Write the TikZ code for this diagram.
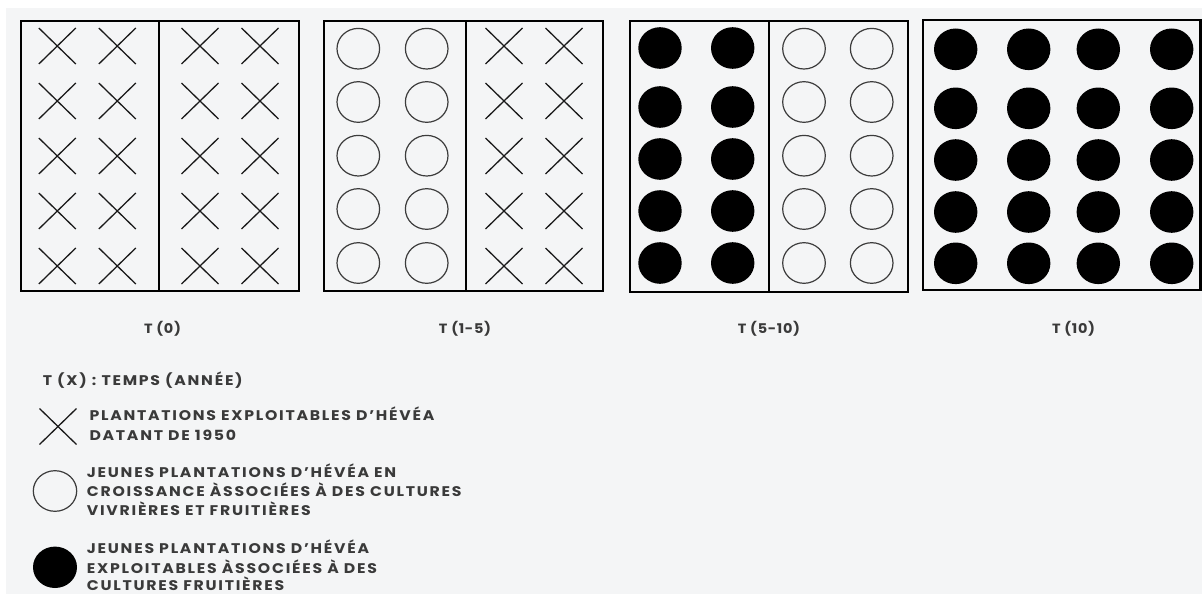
\documentclass[tikz,border=0pt]{standalone}
\usepackage{fontspec}
\newfontfamily\lblfont{Poppins}[LetterSpace=12.5,FakeStretch=1.12]
\newfontfamily\capfont{Poppins}[LetterSpace=5,FakeStretch=1.08]
\definecolor{bgg}{HTML}{F4F5F6}
\definecolor{txt}{HTML}{3A3A3A}
\definecolor{mk}{HTML}{1A1A1A}
\tikzset{
  plot/.style={draw=black, line width=2.2pt},
  divider/.style={draw=black, line width=1.9pt},
  xmark/.style={draw=mk, line width=1.3pt},
  ring/.style={draw=mk!85, line width=1.2pt},
  dot/.style={fill=black},
  lbl/.style={inner sep=0pt, text=txt, font=\lblfont\bfseries\fontsize{14}{17}\selectfont},
  caption/.style={inner sep=0pt, text=txt, font=\capfont\bfseries\fontsize{13.4}{16}\selectfont},
}
\newcommand{\xm}[2]{\draw[xmark] (#1-18.5,#2-18) -- (#1+18.5,#2+18) (#1-18.5,#2+18) -- (#1+18.5,#2-18);}
\begin{document}
\begin{tikzpicture}[x=1pt,y=-1pt]
\useasboundingbox (0,0) rectangle (1202,594);
\fill[white] (0,0) rectangle (1202,594);
\fill[bgg] (6,8) rectangle (1202,594);
% Box 1: T(0)
\foreach \x in {57.3,117.3,200,260}{\foreach \y in {46,101,156,211,266}{\xm{\x}{\y}}}
\draw[plot] (20.7,21) rectangle (299,291);
\draw[divider] (159,21) -- (159,291);
% Box 2: T(1-5)
\foreach \x in {358.3,426.7}{\foreach \y in {48.7,102,155.7,209,263}{\draw[ring] (\x,\y) ellipse[x radius=21.3,y radius=20.3];}}
\foreach \x in {504,564}{\foreach \y in {46,101,156,211,266}{\xm{\x}{\y}}}
\draw[plot] (324,21) rectangle (602.7,291);
\draw[divider] (465.7,21) -- (465.7,291);
% Box 3: T(5-10)
\foreach \x in {660,732.7}{\foreach \y in {48,107,159,211,263}{\fill[dot] (\x,\y) ellipse[x radius=21.7,y radius=20.8];}}
\foreach \x in {804,871.7}{\foreach \y in {48.7,102,155.7,209,263}{\draw[ring] (\x,\y) ellipse[x radius=21.3,y radius=20.3];}}
\draw[plot] (629.7,21) rectangle (907.7,292);
\draw[divider] (769.3,21) -- (769.3,292);
% Box 4: T(10)
\foreach \x in {955.7,1028.7,1098.3,1171.7}{\foreach \y in {49.3,108.3,160,212,263.3}{\fill[dot] (\x,\y) ellipse[x radius=21.7,y radius=20.8];}}
\draw[plot] (923.3,20) rectangle (1200.5,290);
% Labels
\node[caption, anchor=base] (l0) at (162.5,333.7) {T (0)};
\node[caption, anchor=base] (l1) at (465,333.7) {T (1-5)};
\node[caption, anchor=base] (l2) at (769,333.7) {T (5-10)};
\node[caption, anchor=base] (l3) at (1073.6,333.7) {T (10)};
% Legend
\node[lbl, anchor=base west] (lt) at (42.7,385.5) {T (X) : TEMPS (ANNÉE)};
\xm{58}{426.5}
\node[lbl, anchor=base west] (a1) at (89.3,420.8) {PLANTATIONS EXPLOITABLES D’HÉVÉA};
\node[lbl, anchor=base west] (a2) at (89.3,440.8) {DATANT DE 1950};
\draw[ring] (55,491) ellipse[x radius=21.7,y radius=20.3];
\node[lbl, anchor=base west] (b1) at (86.7,477.1) {JEUNES PLANTATIONS D’HÉVÉA EN};
\node[lbl, anchor=base west] (b2) at (86.7,496.5) {CROISSANCE ÀSSOCIÉES À DES CULTURES};
\node[lbl, anchor=base west] (b3) at (86.7,515.5) {VIVRIÈRES ET FRUITIÈRES};
\fill[dot] (55,567.3) ellipse[x radius=22,y radius=20.7];
\node[lbl, anchor=base west] (c1) at (86.7,553.8) {JEUNES PLANTATIONS D’HÉVÉA};
\node[lbl, anchor=base west] (c2) at (86.7,573.1) {EXPLOITABLES ÀSSOCIÉES À DES};
\node[lbl, anchor=base west] (c3) at (86.7,590.8) {CULTURES FRUITIÈRES};
\end{tikzpicture}
\end{document}
